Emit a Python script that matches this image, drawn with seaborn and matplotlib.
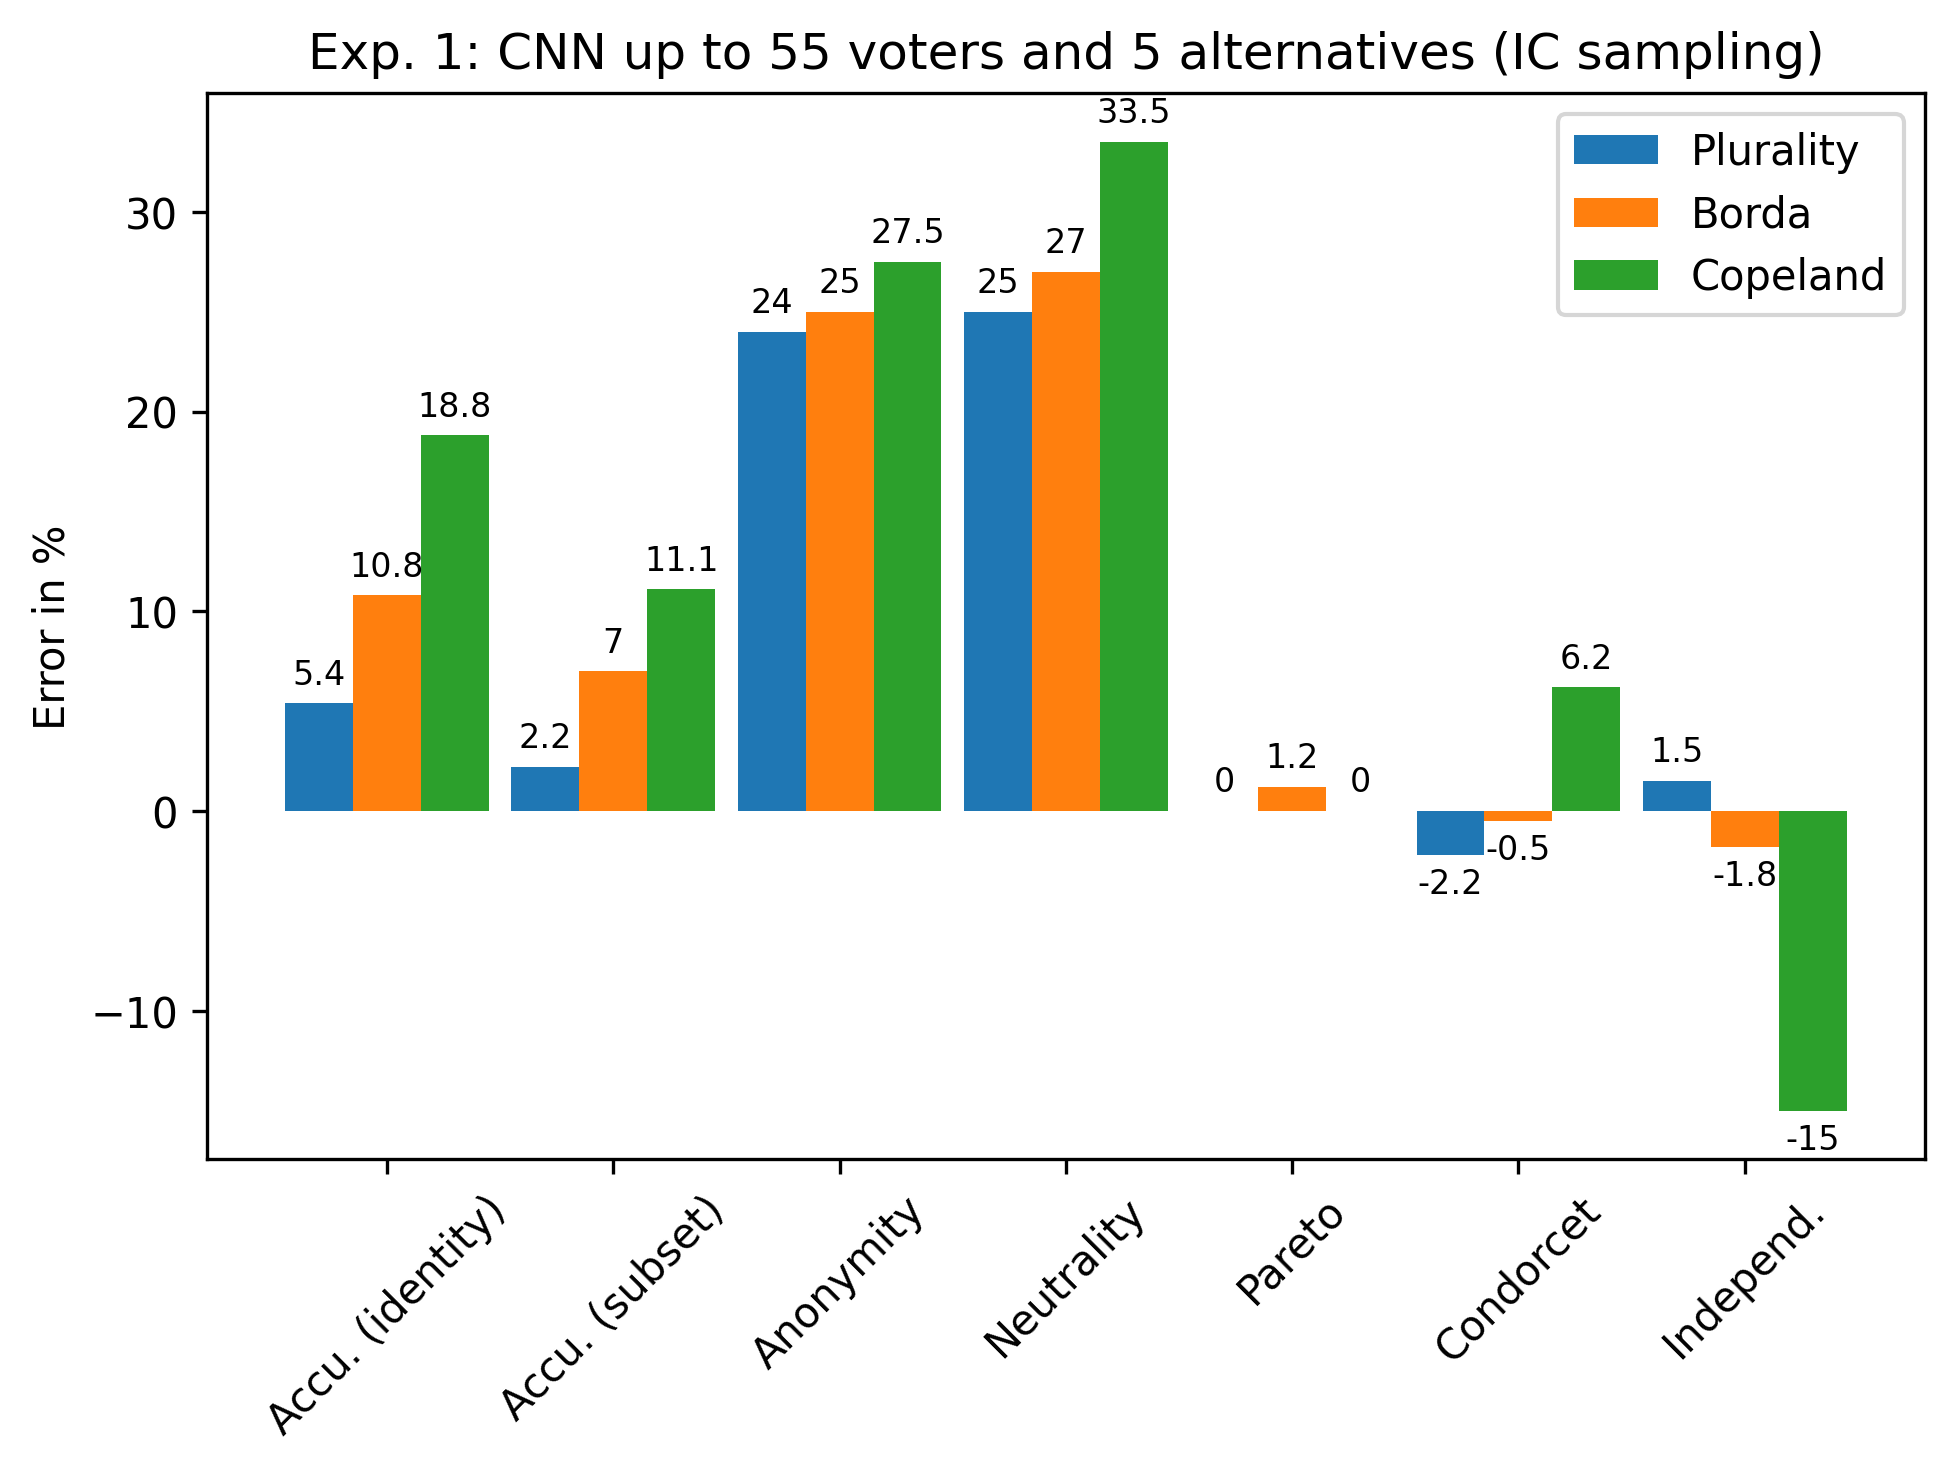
import pandas as pd
import matplotlib
matplotlib.use('Agg')
import matplotlib.pyplot as plt
import seaborn as sns

axioms = ['Accu. (identity)', 'Accu. (subset)', 'Anonymity', 'Neutrality',
          'Pareto', 'Condorcet', 'Independ.']
rules = ['Plurality', 'Borda', 'Copeland']
plurality = [5.4, 2.2, 24, 25, 0, -2.2, 1.5]
borda = [10.8, 7, 25, 27, 1.2, -0.5, -1.8]
copeland = [18.8, 11.1, 27.5, 33.5, 0, 6.2, -15]

rows = []
for rule, vals in zip(rules, [plurality, borda, copeland]):
    for axiom, v in zip(axioms, vals):
        rows.append({'Axiom': axiom, 'Rule': rule, 'Error': v})
df = pd.DataFrame(rows)

fig, ax = plt.subplots(figsize=(6.513, 4.913), dpi=300)
sns.barplot(data=df, x='Axiom', y='Error', hue='Rule', order=axioms,
            hue_order=rules, palette=['#1f77b4', '#ff7f0e', '#2ca02c'],
            width=0.9, errorbar=None, saturation=1, ax=ax)

for container in ax.containers:
    ax.bar_label(container, fmt='{:g}', padding=3, fontsize=8)

ax.set_xlim(-0.795, 6.795)
ax.margins(y=0.05)
ax.set_title('Exp. 1: CNN up to 55 voters and 5 alternatives (IC sampling)')
ax.set_xlabel('')
ax.set_ylabel('Error in %')
plt.xticks(rotation=45)
ax.legend(loc='upper right')

plt.subplots_adjust(left=0.106, right=0.985, top=0.936, bottom=0.213)
plt.savefig('out.png', dpi=300)
